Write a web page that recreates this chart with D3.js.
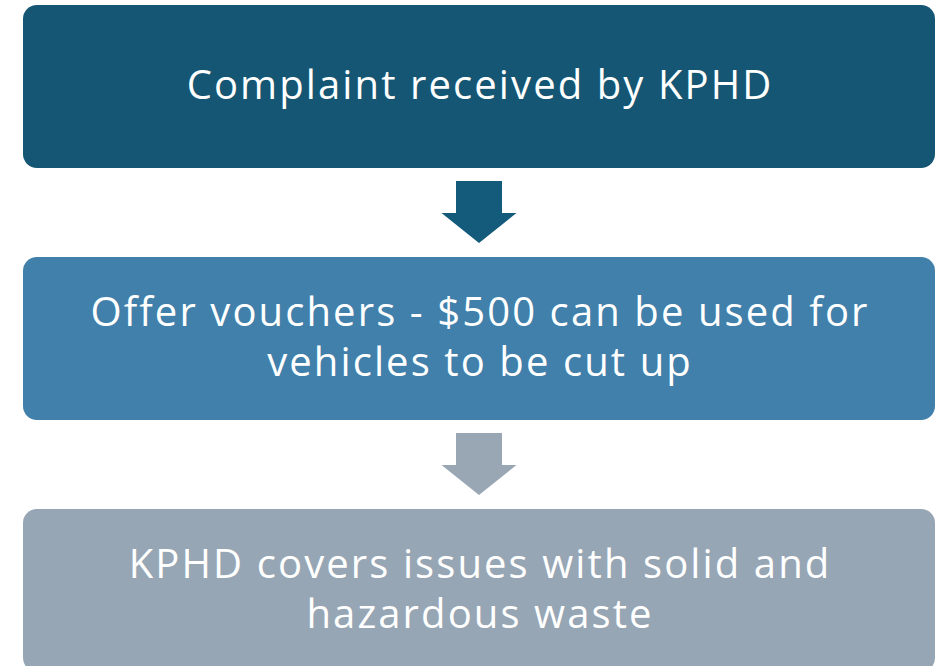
<!DOCTYPE html>
<html>
<head>
<meta charset="utf-8">
<script src="https://cdn.jsdelivr.net/npm/d3@7"></script>
<style>
  html, body { margin: 0; padding: 0; background: #ffffff; }
  svg { display: block; }
</style>
</head>
<body>
<svg id="chart" width="946" height="666"></svg>
<script>
// ---- data ----
const steps = ["step1", "step2", "step3"];
const stepLines = [
  ["Complaint received by KPHD"],
  ["Offer vouchers - $500 can be used for", "vehicles to be cut up"],
  ["KPHD covers issues with solid and", "hazardous waste"]
];
const stepColors = ["#145673", "#4080ab", "#97a6b4"];
const arrowColors = ["#145a7a", "#99a7b5"];

// ---- layout ----
const W = 946, H = 666;
const boxLeft = 23, boxRight = 935, boxH = 163, radius = 14;
const y = d3.scalePoint().domain(steps).range([5, 509]);
const x = d3.scaleLinear().domain([0, 1]).range([boxLeft, boxRight]);

const svg = d3.select("#chart");

const g = svg.selectAll("g.step").data(steps).join("g").attr("class", "step");

g.append("rect")
  .attr("x", x(0))
  .attr("y", d => y(d))
  .attr("width", x(1) - x(0))
  .attr("height", boxH)
  .attr("rx", radius).attr("ry", radius)
  .attr("fill", (d, i) => stepColors[i]);

const lineH = 50;
const spacing = 2.1;
g.each(function(d, i) {
  const lines = stepLines[i];
  const cy = y(d) + boxH / 2 - 1.5;
  const t = d3.select(this).append("text")
    .attr("text-anchor", "middle")
    .attr("fill", "#ffffff")
    .attr("font-family", "'Open Sans', sans-serif")
    .attr("font-size", 40)
    .attr("letter-spacing", spacing);
  lines.forEach((ln, k) => {
    t.append("tspan")
      .attr("x", (x(0) + x(1)) / 2 + spacing / 2)
      .attr("y", cy + (k - (lines.length - 1) / 2) * lineH)
      .attr("dy", "0.35em")
      .text(ln);
  });
});

// arrows between steps
const cx = 479;
const shaftHalf = 23, headHalf = 37.5;
const arrowPairs = d3.pairs(steps);
svg.selectAll("path.arrow").data(arrowPairs).join("path")
  .attr("class", "arrow")
  .attr("fill", (d, i) => arrowColors[i])
  .attr("d", ([a, b]) => {
    const top = y(a) + boxH + 13;
    const tip = y(b) - 14;
    const headStart = top + 32;
    return d3.line()([
      [cx - shaftHalf, top], [cx + shaftHalf, top], [cx + shaftHalf, headStart],
      [cx + headHalf, headStart], [cx, tip], [cx - headHalf, headStart],
      [cx - shaftHalf, headStart]
    ]) + "Z";
  });
</script>
</body>
</html>
